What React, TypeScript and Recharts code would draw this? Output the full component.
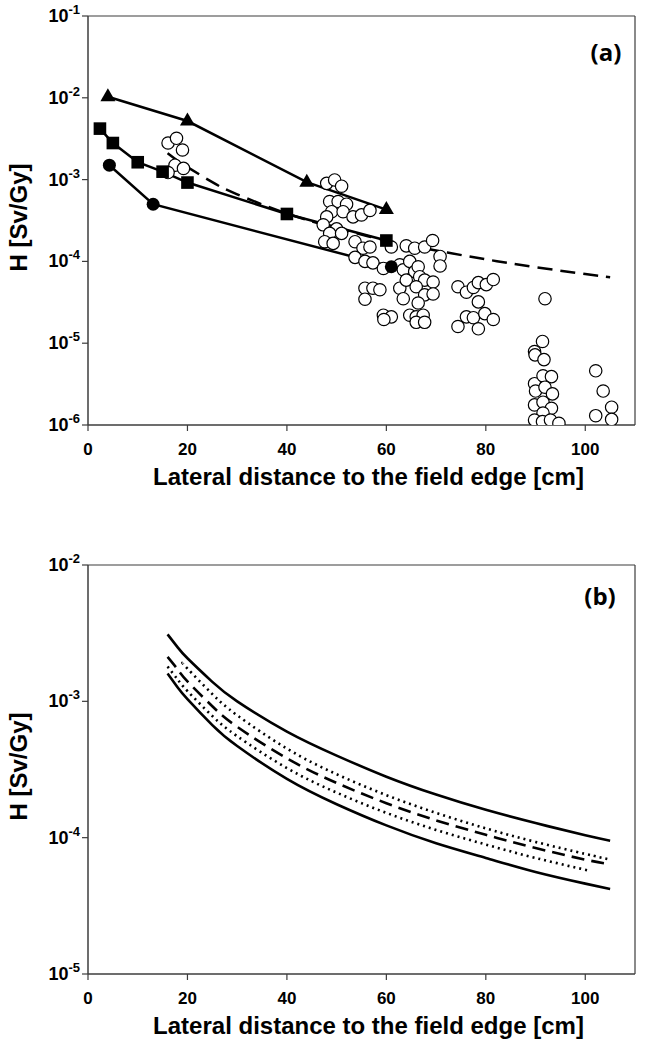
import React from 'react';
import {
  ComposedChart,
  Line,
  Scatter,
  XAxis,
  YAxis,
  ReferenceLine,
  Label,
} from 'recharts';

const FONT = '"Liberation Sans", Arial, Helvetica, sans-serif';
const AX = '#3c3c3c';

const xTicks = [0, 20, 40, 60, 80, 100];
const yTicksA = [1e-6, 1e-5, 1e-4, 1e-3, 1e-2, 1e-1];
const yTicksB = [1e-5, 1e-4, 1e-3, 1e-2];

// panel (a) - measured series
const triangles = [
  { x: 4, y: 1.03e-2 },
  { x: 20, y: 5.2e-3 },
  { x: 44, y: 9.3e-4 },
  { x: 60, y: 4.3e-4 },
];
const squares = [
  { x: 2.4, y: 4.2e-3 },
  { x: 5, y: 2.8e-3 },
  { x: 10, y: 1.63e-3 },
  { x: 15, y: 1.25e-3 },
  { x: 20, y: 9.2e-4 },
  { x: 40, y: 3.8e-4 },
  { x: 60, y: 1.8e-4 },
];
const filledCircles = [
  { x: 4.3, y: 1.5e-3 },
  { x: 13.1, y: 5.0e-4 },
  { x: 61, y: 8.6e-5 },
];
const fitA = [
  { x: 16, y: 2.1e-3 },
  { x: 18, y: 1.7e-3 },
  { x: 20, y: 1.42e-3 },
  { x: 25, y: 9.3e-4 },
  { x: 30, y: 6.6e-4 },
  { x: 40, y: 3.85e-4 },
  { x: 50, y: 2.55e-4 },
  { x: 60, y: 1.8e-4 },
  { x: 70, y: 1.36e-4 },
  { x: 80, y: 1.06e-4 },
  { x: 90, y: 8.5e-5 },
  { x: 100, y: 7.0e-5 },
  { x: 105, y: 6.4e-5 },
];
const openCircles = [
  { x: 16.1, y: 2.8e-3 }, { x: 17.8, y: 3.2e-3 }, { x: 19, y: 2.3e-3 },
  { x: 17.5, y: 1.5e-3 }, { x: 16.1, y: 1.22e-3 }, { x: 19.2, y: 1.37e-3 },
  { x: 48, y: 9.0e-4 }, { x: 49.6, y: 9.9e-4 }, { x: 51, y: 8.3e-4 },
  { x: 48.6, y: 5.4e-4 }, { x: 50.3, y: 5.4e-4 }, { x: 52, y: 5.0e-4 },
  { x: 49, y: 4.05e-4 }, { x: 51.3, y: 4.05e-4 }, { x: 53.3, y: 3.5e-4 },
  { x: 55, y: 3.7e-4 }, { x: 56.7, y: 4.2e-4 }, { x: 48, y: 3.5e-4 },
  { x: 47.3, y: 2.8e-4 }, { x: 50, y: 2.5e-4 }, { x: 48.6, y: 2.2e-4 },
  { x: 51, y: 2.2e-4 }, { x: 47.6, y: 1.74e-4 }, { x: 49.3, y: 1.66e-4 },
  { x: 53.7, y: 1.74e-4 }, { x: 55.3, y: 1.45e-4 }, { x: 56.7, y: 1.5e-4 },
  { x: 53.7, y: 1.12e-4 }, { x: 55.7, y: 1.0e-4 }, { x: 57.3, y: 9.6e-5 },
  { x: 59.4, y: 8.2e-5 },
  { x: 61, y: 1.5e-4 }, { x: 64, y: 1.55e-4 }, { x: 65.7, y: 1.45e-4 },
  { x: 67.7, y: 1.5e-4 }, { x: 69.3, y: 1.8e-4 },
  { x: 62.7, y: 9.1e-5 }, { x: 63.4, y: 7.9e-5 }, { x: 64.7, y: 1.0e-4 },
  { x: 65.7, y: 7.5e-5 }, { x: 66.4, y: 8.6e-5 }, { x: 66.7, y: 6.5e-5 },
  { x: 67.7, y: 5.9e-5 }, { x: 69.4, y: 5.6e-5 }, { x: 70.8, y: 1.15e-4 },
  { x: 70.8, y: 8.8e-5 },
  { x: 62.7, y: 4.7e-5 }, { x: 64, y: 5.9e-5 }, { x: 66, y: 4.9e-5 },
  { x: 67.7, y: 3.9e-5 }, { x: 69.4, y: 4.0e-5 }, { x: 63.4, y: 3.5e-5 },
  { x: 66.4, y: 3.1e-5 },
  { x: 55.7, y: 4.7e-5 }, { x: 57.3, y: 4.7e-5 }, { x: 58.7, y: 4.5e-5 },
  { x: 55.7, y: 3.45e-5 },
  { x: 59.4, y: 2.2e-5 }, { x: 61, y: 2.1e-5 }, { x: 59.5, y: 1.95e-5 },
  { x: 64.7, y: 2.2e-5 }, { x: 66, y: 2.1e-5 }, { x: 67.4, y: 2.2e-5 },
  { x: 66, y: 1.8e-5 }, { x: 67.7, y: 1.8e-5 },
  { x: 74.4, y: 4.9e-5 }, { x: 76.1, y: 4.2e-5 }, { x: 77.5, y: 4.8e-5 },
  { x: 78.5, y: 5.5e-5 }, { x: 80.1, y: 5.2e-5 }, { x: 81.5, y: 6.0e-5 },
  { x: 78.5, y: 3.2e-5 },
  { x: 74.4, y: 1.6e-5 }, { x: 76.1, y: 2.1e-5 }, { x: 77.5, y: 2.05e-5 },
  { x: 79.8, y: 2.3e-5 }, { x: 81.5, y: 1.95e-5 }, { x: 78.5, y: 1.5e-5 },
  { x: 91.9, y: 3.5e-5 }, { x: 91.4, y: 1.05e-5 }, { x: 89.8, y: 7.9e-6 },
  { x: 89.9, y: 7.2e-6 }, { x: 91.7, y: 6.3e-6 }, { x: 89.8, y: 3.2e-6 },
  { x: 91.5, y: 4.0e-6 }, { x: 93.2, y: 3.9e-6 }, { x: 90, y: 2.6e-6 },
  { x: 91.9, y: 2.9e-6 }, { x: 93.4, y: 2.4e-6 }, { x: 89.8, y: 1.76e-6 },
  { x: 91.5, y: 1.9e-6 }, { x: 93.2, y: 1.6e-6 }, { x: 91.5, y: 1.4e-6 },
  { x: 89.8, y: 1.15e-6 }, { x: 91.4, y: 1.1e-6 }, { x: 93, y: 1.15e-6 },
  { x: 94.7, y: 1.05e-6 },
  { x: 102.1, y: 4.6e-6 }, { x: 103.6, y: 2.6e-6 }, { x: 105.3, y: 1.65e-6 },
  { x: 102.1, y: 1.3e-6 }, { x: 105.3, y: 1.17e-6 },
];

// panel (b) - curves
const upperSolid = [
  { x: 16, y: 3.1e-3 }, { x: 18, y: 2.5e-3 }, { x: 20, y: 2.07e-3 }, { x: 25, y: 1.39e-3 },
  { x: 30, y: 1.0e-3 }, { x: 40, y: 6.0e-4 }, { x: 50, y: 4.0e-4 },
  { x: 60, y: 2.8e-4 }, { x: 70, y: 2.07e-4 }, { x: 80, y: 1.6e-4 },
  { x: 90, y: 1.28e-4 }, { x: 100, y: 1.04e-4 }, { x: 105, y: 9.5e-5 },
];
const upperDotted = [
  { x: 19, y: 1.92e-3 }, { x: 20, y: 1.74e-3 }, { x: 25, y: 1.13e-3 },
  { x: 30, y: 7.9e-4 }, { x: 40, y: 4.5e-4 }, { x: 50, y: 2.92e-4 },
  { x: 60, y: 2.05e-4 }, { x: 70, y: 1.52e-4 }, { x: 80, y: 1.17e-4 },
  { x: 90, y: 9.3e-5 }, { x: 100, y: 7.6e-5 }, { x: 105, y: 6.9e-5 },
];
const dashedMid = [
  { x: 16, y: 2.12e-3 }, { x: 18, y: 1.72e-3 }, { x: 20, y: 1.4e-3 }, { x: 25, y: 9.2e-4 },
  { x: 30, y: 6.5e-4 }, { x: 40, y: 3.82e-4 }, { x: 50, y: 2.52e-4 },
  { x: 60, y: 1.79e-4 }, { x: 70, y: 1.34e-4 }, { x: 80, y: 1.05e-4 },
  { x: 90, y: 8.4e-5 }, { x: 100, y: 6.9e-5 }, { x: 105, y: 6.4e-5 },
];
const lowerDotted = [
  { x: 16, y: 1.8e-3 }, { x: 18, y: 1.45e-3 }, { x: 20, y: 1.19e-3 }, { x: 25, y: 7.8e-4 },
  { x: 30, y: 5.55e-4 }, { x: 40, y: 3.24e-4 }, { x: 50, y: 2.14e-4 },
  { x: 60, y: 1.52e-4 }, { x: 70, y: 1.14e-4 }, { x: 80, y: 8.9e-5 },
  { x: 90, y: 7.1e-5 }, { x: 101, y: 5.7e-5 },
];
const lowerSolid = [
  { x: 16, y: 1.6e-3 }, { x: 18, y: 1.27e-3 }, { x: 20, y: 1.04e-3 }, { x: 25, y: 6.7e-4 },
  { x: 30, y: 4.7e-4 }, { x: 40, y: 2.7e-4 }, { x: 50, y: 1.76e-4 },
  { x: 60, y: 1.23e-4 }, { x: 70, y: 9.1e-5 }, { x: 80, y: 7.1e-5 },
  { x: 90, y: 5.6e-5 }, { x: 100, y: 4.6e-5 }, { x: 105, y: 4.2e-5 },
];

const PowTick = (props: any) => {
  const { x, y, payload } = props;
  const e = Math.round(Math.log10(payload.value));
  return (
    <text x={x} y={y + 6} textAnchor="end" fontFamily={FONT} fontWeight="bold" fill="#000">
      <tspan fontSize={18}>10</tspan>
      <tspan fontSize={13} dy={-8}>{e}</tspan>
    </text>
  );
};

const xTitle = (props: any) => {
  const vb = props.viewBox;
  return (
    <text
      x={vb.x + vb.width / 2 + 7}
      y={vb.y + 60}
      textAnchor="middle"
      fontFamily={FONT}
      fontWeight="bold"
      fontSize={24}
      fill="#000"
    >
      Lateral distance to the field edge [cm]
    </text>
  );
};

const yTitle = (props: any) => {
  const vb = props.viewBox;
  const cy = vb.y + vb.height / 2 - 3;
  return (
    <text
      x={27}
      y={cy}
      transform={`rotate(-90, 27, ${cy})`}
      textAnchor="middle"
      fontFamily={FONT}
      fontWeight="bold"
      fontSize={24}
      fill="#000"
    >
      H [Sv/Gy]
    </text>
  );
};

const Tri = (p: any) => (
  <path key={p.index} d={`M${p.cx},${p.cy - 8.5} L${p.cx + 7.5},${p.cy + 4.5} L${p.cx - 7.5},${p.cy + 4.5} Z`} fill="#000" />
);
const Sq = (p: any) => (
  <rect key={p.index} x={p.cx - 6.3} y={p.cy - 6.3} width={12.6} height={12.6} fill="#000" />
);
const Dot = (p: any) => <circle key={p.index} cx={p.cx} cy={p.cy} r={6.5} fill="#000" />;
const OpenDot = (p: any) => (
  <circle cx={p.cx} cy={p.cy} r={6.2} fill="#fff" stroke="#000" strokeWidth={1.2} />
);

const axisProps = {
  axisLine: { stroke: AX, strokeWidth: 1.5 },
  tickLine: { stroke: AX, strokeWidth: 1.2 },
  tickSize: 6,
};

function PanelA() {
  return (
    <ComposedChart width={651} height={520} margin={{ top: 16, right: 16, bottom: 0, left: 0 }}>
      <XAxis
        type="number"
        dataKey="x"
        domain={[0, 110]}
        ticks={xTicks}
        allowDataOverflow
        height={95}
        tickMargin={12}
        tick={{ fontSize: 17, fontWeight: 'bold', fill: '#000', fontFamily: FONT }}
        {...axisProps}
      >
        <Label content={xTitle} />
      </XAxis>
      <YAxis
        type="number"
        dataKey="y"
        scale="log"
        domain={[1e-6, 1e-1]}
        ticks={yTicksA}
        allowDataOverflow
        width={88}
        tick={<PowTick />}
        {...axisProps}
      >
        <Label content={yTitle} />
      </YAxis>
      <ReferenceLine y={1e-1} stroke={AX} strokeWidth={1.2} />
      <ReferenceLine x={110} stroke={AX} strokeWidth={1.2} />
      <Scatter data={openCircles} dataKey="y" shape={OpenDot} isAnimationActive={false} />
      <Line data={fitA} dataKey="y" type="natural" stroke="#000" strokeWidth={2.5} strokeDasharray="15 8" dot={false} isAnimationActive={false} />
      <Line data={triangles} dataKey="y" type="linear" stroke="#000" strokeWidth={2.5} dot={Tri} isAnimationActive={false} />
      <Line data={squares} dataKey="y" type="linear" stroke="#000" strokeWidth={2.5} dot={Sq} isAnimationActive={false} />
      <Line data={filledCircles} dataKey="y" type="linear" stroke="#000" strokeWidth={2.5} dot={Dot} isAnimationActive={false} />
    </ComposedChart>
  );
}

function PanelB() {
  return (
    <ComposedChart width={651} height={530} margin={{ top: 45, right: 16, bottom: 0, left: 0 }}>
      <XAxis
        type="number"
        dataKey="x"
        domain={[0, 110]}
        ticks={xTicks}
        allowDataOverflow
        height={76}
        tickMargin={12}
        tick={{ fontSize: 17, fontWeight: 'bold', fill: '#000', fontFamily: FONT }}
        {...axisProps}
      >
        <Label content={xTitle} />
      </XAxis>
      <YAxis
        type="number"
        dataKey="y"
        scale="log"
        domain={[1e-5, 1e-2]}
        ticks={yTicksB}
        allowDataOverflow
        width={88}
        tick={<PowTick />}
        {...axisProps}
      >
        <Label content={yTitle} />
      </YAxis>
      <ReferenceLine y={1e-2} stroke={AX} strokeWidth={1.2} />
      <ReferenceLine x={110} stroke={AX} strokeWidth={1.2} />
      <Line data={upperSolid} dataKey="y" type="natural" stroke="#000" strokeWidth={2.6} dot={false} isAnimationActive={false} />
      <Line data={upperDotted} dataKey="y" type="natural" stroke="#000" strokeWidth={2.6} strokeDasharray="2 4" dot={false} isAnimationActive={false} />
      <Line data={dashedMid} dataKey="y" type="natural" stroke="#000" strokeWidth={2.6} strokeDasharray="13 7" dot={false} isAnimationActive={false} />
      <Line data={lowerDotted} dataKey="y" type="natural" stroke="#000" strokeWidth={2.6} strokeDasharray="2 4" dot={false} isAnimationActive={false} />
      <Line data={lowerSolid} dataKey="y" type="natural" stroke="#000" strokeWidth={2.6} dot={false} isAnimationActive={false} />
    </ComposedChart>
  );
}

export default function App() {
  return (
    <div style={{ position: 'absolute', left: 0, top: 0, width: 651, height: 1050, background: '#fff' }}>
      <PanelA />
      <PanelB />
      <svg width={651} height={1050} style={{ position: 'absolute', left: 0, top: 0, pointerEvents: 'none' }}>
        <text x={606} y={61} textAnchor="middle" fontFamily='"Open Sans", sans-serif' fontWeight="bold" fontSize={24} fill="#000">(a)</text>
        <text x={600} y={605} textAnchor="middle" fontFamily='"Open Sans", sans-serif' fontWeight="bold" fontSize={24} fill="#000">(b)</text>
      </svg>
    </div>
  );
}
